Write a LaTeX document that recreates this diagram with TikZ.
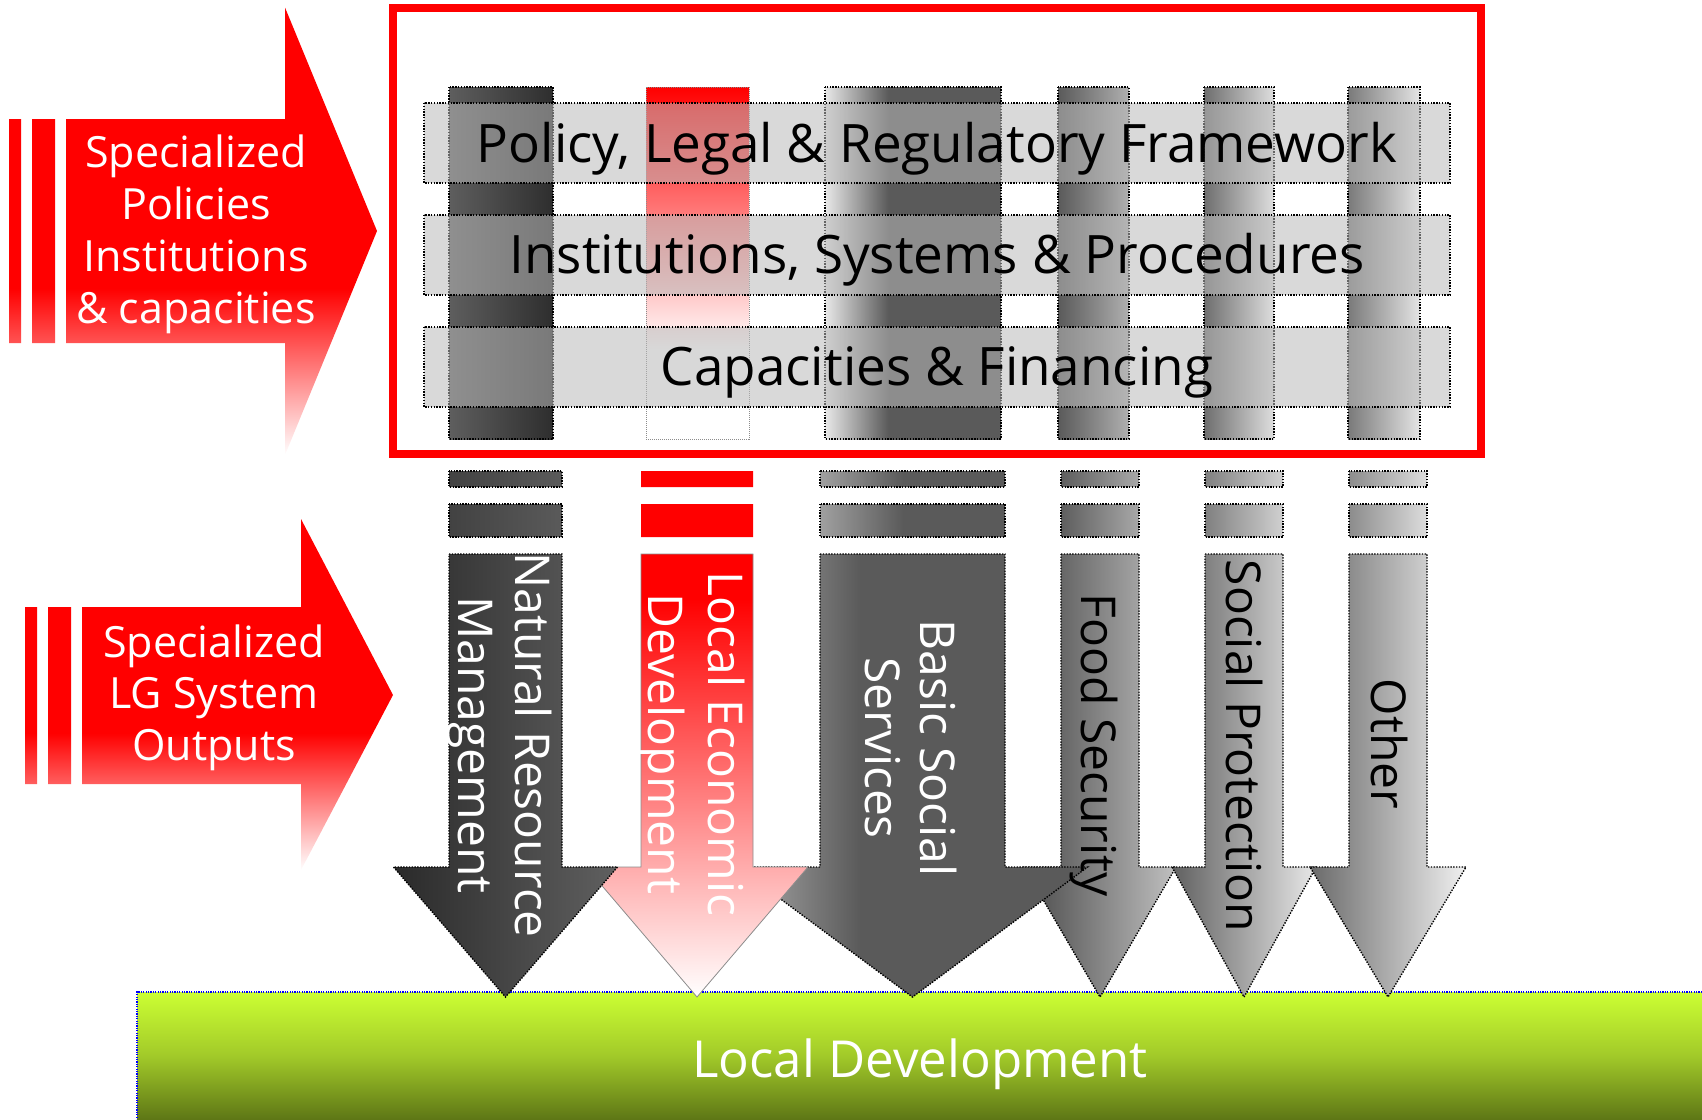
\documentclass[tikz,border=0pt]{standalone}
\usepackage{fontspec}
\setmainfont{Open Sans}
\newcommand\fsz[2]{\fontsize{#1}{#2}\selectfont}
\definecolor{bandgray}{HTML}{B9B9B9}
\definecolor{limeA}{HTML}{CCFF33}
\definecolor{limeM}{HTML}{A2CA29}
\definecolor{oliveB}{HTML}{5E7716}
\definecolor{g2a}{HTML}{2A2A2A}
\definecolor{g2e}{HTML}{2E2E2E}
\definecolor{g42}{HTML}{424242}
\definecolor{g4a}{HTML}{4A4A4A}
\definecolor{g5a}{HTML}{5A5A5A}
\definecolor{g5e}{HTML}{5E5E5E}
\definecolor{g60}{HTML}{606060}
\definecolor{g6a}{HTML}{6A6A6A}
\definecolor{g6e}{HTML}{6E6E6E}
\definecolor{g7a}{HTML}{7A7A7A}
\definecolor{g80}{HTML}{808080}
\definecolor{g8c}{HTML}{8C8C8C}
\definecolor{ga0}{HTML}{A0A0A0}
\definecolor{ga8}{HTML}{A8A8A8}
\definecolor{gaa}{HTML}{AAAAAA}
\definecolor{gb0}{HTML}{B0B0B0}
\definecolor{gc0}{HTML}{C0C0C0}
\definecolor{gd0}{HTML}{D0D0D0}
\definecolor{gdc}{HTML}{DCDCDC}
\definecolor{gde}{HTML}{DEDEDE}
\definecolor{ge4}{HTML}{E4E4E4}
\definecolor{ge8}{HTML}{E8E8E8}
\definecolor{gf0}{HTML}{F0F0F0}
\pgfdeclareverticalshading{redfadeA}{100bp}{color(0bp)=(white); color(25bp)=(white); color(43.6bp)=(red); color(100bp)=(red)}
\pgfdeclareverticalshading{redfadeB}{100bp}{color(0bp)=(white); color(25bp)=(white); color(44.5bp)=(red); color(100bp)=(red)}
\pgfdeclareverticalshading{ledtop}{100bp}{color(0bp)=(white); color(37.6bp)=(white); color(75bp)=(red); color(100bp)=(red)}
\pgfdeclareverticalshading{ledarrow}{100bp}{color(0bp)=(white); color(25bp)=(white); color(70bp)=(red); color(100bp)=(red)}
\pgfdeclareverticalshading{greenfade}{100bp}{color(0bp)=(oliveB); color(25bp)=(oliveB); color(50bp)=(limeM); color(75bp)=(limeA); color(100bp)=(limeA)}
\pgfdeclarehorizontalshading{bsstop}{100bp}{color(0bp)=(ge8); color(25bp)=(ge8); color(43bp)=(g5a); color(100bp)=(g5a)}
\pgfdeclarehorizontalshading{bssarrow}{100bp}{color(0bp)=(gaa); color(25bp)=(gaa); color(42.5bp)=(g5a); color(100bp)=(g5a)}
\pgfdeclarehorizontalshading{bssbar}{100bp}{color(0bp)=(ga0); color(25bp)=(ga0); color(47.5bp)=(g5a); color(100bp)=(g5a)}
\tikzset{
  dotb/.style={draw=black, line width=1.4pt, dash pattern=on 1.4pt off 1.4pt},
  dotg/.style={draw=black!45, line width=1pt, dash pattern=on 1pt off 1pt},
  bandbox/.style={fill=bandgray, fill opacity=0.546, dotb},
  bandtxt/.style={anchor=base, text=black, font=\fsz{53}{60}},
  lefttxt/.style={text=white, align=center, font=\fsz{43}{51.7}},
  rottxt/.style={rotate=-90, align=center, font=\fsz{48}{57}},
}
\begin{document}
\begin{tikzpicture}[x=1pt,y=-1pt]
\useasboundingbox (0,0) rectangle (1702,1119);
% left arrows
\shade[shading=redfadeA] (9,119) rectangle (21,343) (32,119) rectangle (55,343)
  (66,119) -- (285,119) -- (285,7.5) -- (377,231) -- (285,455) -- (285,343) -- (66,343) -- cycle;
\node[lefttxt] (la) at (196,234.3) {Specialized\\Policies\\Institutions\\\& capacities};
\shade[shading=redfadeB] (25,607) rectangle (37,784) (48,607) rectangle (71,784)
  (82,607) -- (301,607) -- (301,519) -- (393,695) -- (301,870) -- (301,784) -- (82,784) -- cycle;
\node[lefttxt] (lb) at (214,697.8) {Specialized\\LG System\\Outputs};
% red frame
\draw[red, line width=8pt] (392.5,7.5) rectangle (1481,454);
% top columns
\shadedraw[left color=g5e, right color=g2e, dotb] (449,87) rectangle (553,439);
\shadedraw[shading=ledtop, dotg] (646,87) rectangle (749,439);
\shadedraw[shading=bsstop, dotb] (825,87) rectangle (1001,439);
\shadedraw[left color=g5a, right color=gb0, dotb] (1058,87) rectangle (1129,439);
\shadedraw[left color=g6e, right color=gde, dotb] (1204,87) rectangle (1274,439);
\shadedraw[left color=g7a, right color=ge4, dotb] (1348,87) rectangle (1420,439);
% bands
\draw[bandbox] (424,103) rectangle (1450,183);
\draw[bandbox] (424,215) rectangle (1450,295);
\draw[bandbox] (424,327) rectangle (1450,407);
\node[bandtxt] (tpol) at (937,162) {Policy, Legal \& Regulatory Framework};
\node[bandtxt] (tins) at (937,273) {Institutions, Systems \& Procedures};
\node[bandtxt] (tcap) at (937,385) {Capacities \& Financing};
% green band
\shade[shading=greenfade] (137,992) rectangle (1702,1119);
\draw[blue, line width=1.2pt, dash pattern=on 1.2pt off 1.2pt] (1702,992) -- (137,992) -- (137,1119);
% bars
\shadedraw[left color=g42, right color=g5a, dotb] (449,471) rectangle (562,487) (449,504) rectangle (562,537);
\fill[red] (641,471) rectangle (753,487) (641,504) rectangle (753,537);
\shadedraw[shading=bssbar, dotb] (820,471) rectangle (1005,487) (820,504) rectangle (1005,537);
\shadedraw[left color=g5e, right color=ga8, dotb] (1061,471) rectangle (1139,487) (1061,504) rectangle (1139,537);
\shadedraw[left color=g80, right color=gd0, dotb] (1205,471) rectangle (1283,487) (1205,504) rectangle (1283,537);
\shadedraw[left color=g8c, right color=gdc, dotb] (1349,471) rectangle (1427,487) (1349,504) rectangle (1427,537);
% bottom arrows
\shadedraw[left color=g4a, right color=gc0, dotb] (1061,554) -- (1139,554) -- (1139,867) -- (1176,867) -- (1100,997) -- (1024,867) -- (1061,867) -- cycle;
\shadedraw[left color=g60, right color=ge8, dotb] (1205,554) -- (1283,554) -- (1283,867) -- (1316,867) -- (1244,997) -- (1172,867) -- (1205,867) -- cycle;
\shadedraw[left color=g6a, right color=gf0, dotb] (1349,554) -- (1427,554) -- (1427,867) -- (1466,867) -- (1388,997) -- (1310,867) -- (1349,867) -- cycle;
\shadedraw[shading=bssarrow, dotb] (820,554) -- (1005,554) -- (1005,867) -- (1087.5,867) -- (912.5,997) -- (737.5,867) -- (820,867) -- cycle;
\shadedraw[shading=ledarrow, draw=black!45, line width=0.8pt] (641,554) -- (753,554) -- (753,867) -- (808,867) -- (697,997) -- (586,867) -- (641,867) -- cycle;
\shadedraw[left color=g2a, right color=g60, dotb] (449,554) -- (562,554) -- (562,867) -- (617.5,867) -- (505.5,997) -- (393.5,867) -- (449,867) -- cycle;
% arrow labels
\node[rottxt, text=white, font=\fsz{48}{57}] (nrm) at (499,745) {Natural Resource\\Management};
\node[rottxt, text=white, font=\fsz{48}{60}] (led) at (690.5,744) {Local Economic\\Development};
\node[rottxt, text=white, font=\fsz{48}{55}] (bss) at (910.7,748) {Basic Social\\Services};
\node[rottxt, anchor=base] (fs) at (1081,745) {Food Security};
\node[rottxt, anchor=base] (sp) at (1226,746) {Social Protection};
\node[rottxt, anchor=base] (oth) at (1371,744) {Other};
\node[anchor=base, text=white, font=\fsz{51}{60}] (ld) at (920,1077) {Local Development};
\end{tikzpicture}
\end{document}
